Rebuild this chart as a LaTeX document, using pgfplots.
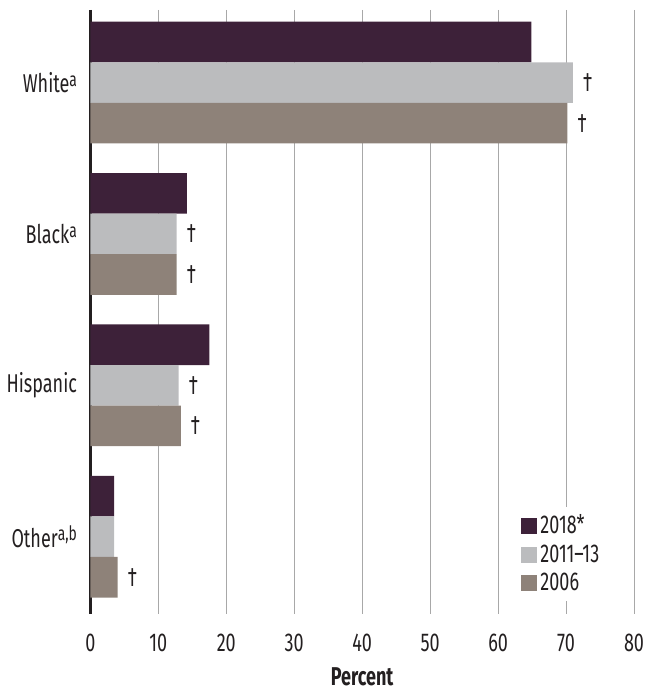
\documentclass[border=0pt]{standalone}
\usepackage{pgfplots}
\pgfplotsset{compat=1.18}
\usepackage{fontspec}
\setmainfont{Fira Sans}[FakeStretch=0.7]
\definecolor{c2018}{HTML}{3D2139}
\definecolor{c2011}{HTML}{BBBCBE}
\definecolor{c2006}{HTML}{8E8279}
\definecolor{txt}{HTML}{231F20}
\definecolor{gridgray}{HTML}{A8A8A8}
\newcommand{\supr}[1]{\raisebox{0.45ex}{\fontsize{10}{10}\selectfont #1}}

\begin{document}
\begin{tikzpicture}
\begin{axis}[
  width=274.5pt, height=305pt, scale only axis,
  xbar, bar width=20.5pt,
  xmin=0, xmax=80, ymin=-0.48, ymax=3.51, y dir=reverse,
  ytick={0,1,2,3},
  yticklabels={White\supr{a}, Black\supr{a}, Hispanic, Other\supr{a,b}},
  yticklabel style={xshift=1pt},
  xtick={0,10,...,80},
  axis x line*=bottom, axis y line*=left,
  x axis line style={draw=none},
  y axis line style={line width=1.5pt, color=txt},
  tick style={draw=none},
  xmajorgrids, grid style={color=gridgray, line width=0.5pt},
  xlabel={\textbf{Percent}},
  xlabel style={yshift=-1.5pt},
  xticklabel style={yshift=-6.5pt},
  label style={font=\fontsize{13}{15}\selectfont, color=txt},
  tick label style={font=\fontsize{13}{15}\selectfont, color=txt},
  /pgf/number format/assume math mode=true,
  legend style={at={(0.955,0.02)}, anchor=south east, draw=none, fill=white,
    font=\fontsize{13}{13}\selectfont, text=txt,
    /tikz/every even column/.append style={column sep=3pt},
    nodes={inner ysep=2pt}},
  legend cell align=left,
  legend image code/.code={\fill[#1] (0pt,-4pt) rectangle (8pt,4pt);},
  every node near coord/.append style={anchor=west, xshift=1.5pt, color=txt, font=\fontsize{13.5}{15}\selectfont},
]
\addplot[fill=c2018, draw=none, bar shift=20.5pt] coordinates {(64.9,0) (14.2,1) (17.5,2) (3.5,3)};
\addplot[fill=c2011, draw=none, bar shift=0pt, point meta=explicit symbolic, nodes near coords]
  coordinates {(71.0,0)[\textdagger] (12.7,1)[\textdagger] (13.0,2)[\textdagger] (3.5,3)[]};
\addplot[fill=c2006, draw=none, bar shift=-20.5pt, point meta=explicit symbolic, nodes near coords]
  coordinates {(70.2,0)[\textdagger] (12.7,1)[\textdagger] (13.3,2)[\textdagger] (4.0,3)[\textdagger]};
\legend{2018*, 2011--13, 2006}
\end{axis}
\path (current axis.north) ++(0,5pt);
\end{tikzpicture}
\end{document}
